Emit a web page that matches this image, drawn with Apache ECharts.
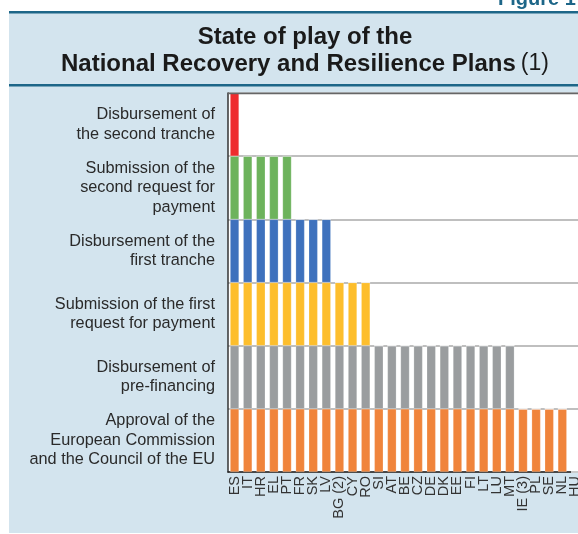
<!DOCTYPE html>
<html>
<head>
<meta charset="utf-8">
<script src="https://cdn.jsdelivr.net/npm/echarts@6/dist/echarts.min.js"></script>
<style>
html,body{margin:0;padding:0;background:#fff;overflow:hidden;width:578px;height:534px;}
#c{width:600px;height:534px;}
</style>
</head>
<body>
<div id="c"></div>
<script>
// Countries in chart order
const countries = ['ES','IT','HR','EL','PT','FR','SK','LV','BG (2)','CY','RO','SI','AT','BE','CZ','DE','DK','EE','FI','LT','LU','MT','IE (3)','PL','SE','NL','HU'];
// Highest stage reached by each country (0 = none, 6 = disbursement of second tranche)
const stageReached = [6,5,5,5,5,4,4,4,3,3,3,2,2,2,2,2,2,2,2,2,2,2,1,1,1,1,0];
// Stage names, bottom to top
const stages = [
  'Approval of the\nEuropean Commission\nand the Council of the EU',
  'Disbursement of\npre-financing',
  'Submission of the first\nrequest for payment',
  'Disbursement of the\nfirst tranche',
  'Submission of the\nsecond request for\npayment',
  'Disbursement of\nthe second tranche'
];
const stageColors = ['#f0843b','#9a9d9f','#fdbe2c','#3e71bd','#6db35c','#ee2c2e'];

const series = stages.map((s, i) => ({
  name: s,
  type: 'bar',
  stack: 'all',
  barWidth: 9,
  data: stageReached.map(v => v > i ? 1 : 0),
  itemStyle: { color: stageColors[i], borderColor: 'rgba(255,255,255,0.35)', borderWidth: 0.6 },
  emphasis: { disabled: true }
}));

const FF = 'Liberation Sans, Arial, sans-serif';
const chart = echarts.init(document.getElementById('c'), null, {renderer: 'canvas'});
chart.setOption({
  backgroundColor: '#ffffff',
  animation: false,
  textStyle: { fontFamily: FF },
  title: {
    text: '{b|State of play of the}\n{b|National Recovery and Resilience Plans} {n|(1)}',
    left: 300, top: 18.5, textAlign: 'center',
    textStyle: {
      rich: {
        b: { fontSize: 24, fontWeight: 'bold', color: '#1a1a1a', fontFamily: FF, lineHeight: 27 },
        n: { fontSize: 23, fontWeight: 'normal', color: '#1a1a1a', fontFamily: FF, lineHeight: 27 }
      }
    }
  },
  graphic: [
    { type: 'rect', z: -100, silent: true, shape: { x: 9, y: 12, width: 600, height: 521 }, style: { fill: '#d3e4ee' } },
    { type: 'rect', z: -90, silent: true, shape: { x: 9, y: 11, width: 600, height: 2.5 }, style: { fill: '#1d6688' } },
    { type: 'rect', z: -90, silent: true, shape: { x: 9, y: 84, width: 600, height: 2.5 }, style: { fill: '#1d6688' } },
    { type: 'line', z: 50, silent: true, shape: { x1: 228, y1: 93.5, x2: 600, y2: 93.5 }, style: { stroke: '#666', lineWidth: 1.5 } },
    { type: 'text', z: 10, silent: true, left: 498, top: -11, style: { text: 'Figure 1', fill: '#1d6688', font: 'bold 20px Liberation Sans, Arial, sans-serif' } }
  ],
  grid: { left: 228, top: 93, width: 354, height: 379, show: true, backgroundColor: '#ffffff', borderWidth: 0 },
  xAxis: {
    type: 'category',
    data: countries,
    axisLine: { lineStyle: { color: '#222', width: 1.5 } },
    axisTick: { show: false },
    axisLabel: { rotate: 90, interval: 0, fontSize: 14.5, color: '#333', margin: 4 }
  },
  yAxis: [
    {
      type: 'value', min: 0, max: 6, interval: 1,
      axisLine: { show: true, lineStyle: { color: '#333', width: 1.5 } },
      axisTick: { show: false },
      axisLabel: { show: false },
      splitLine: { show: true, lineStyle: { color: '#aaaaaa', width: 1.5 } }
    },
    {
      type: 'category', position: 'left', data: stages,
      axisLine: { show: false }, axisTick: { show: false }, splitLine: { show: false },
      axisLabel: { fontSize: 16.3, color: '#2a2a2a', lineHeight: 19.5, align: 'right', margin: 13 }
    }
  ],
  series: series
});
</script>
</body>
</html>
